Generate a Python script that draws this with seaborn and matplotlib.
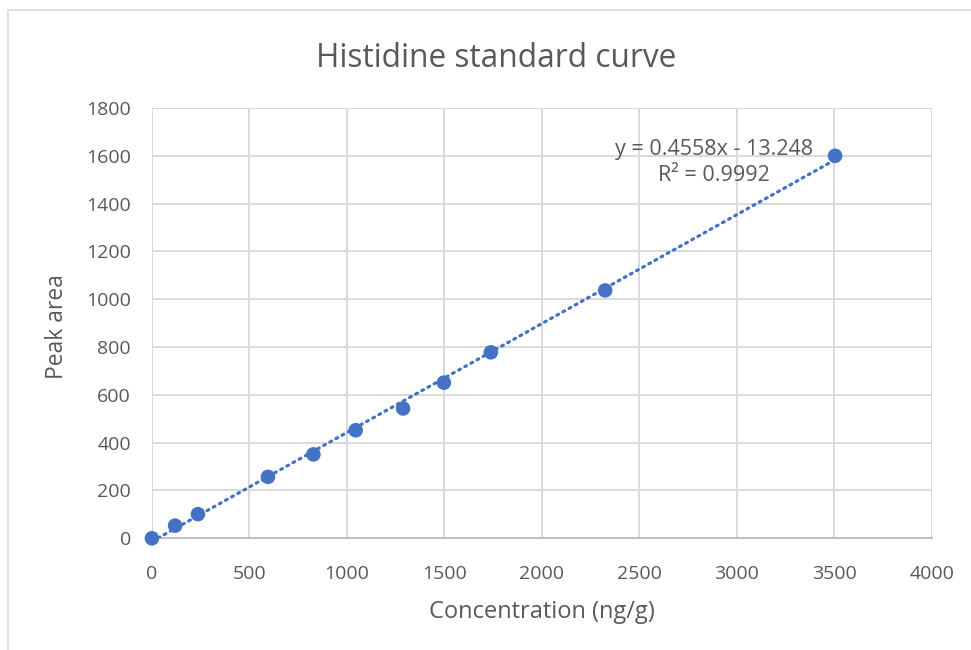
import numpy as np
import pandas as pd
import matplotlib
matplotlib.use("Agg")
import matplotlib.pyplot as plt
import seaborn as sns
from matplotlib.patches import Rectangle

# Standard concentrations (ng/g) and measured peak areas
concentration = [0, 119, 236, 595, 828, 1045, 1288, 1497, 1738, 2324, 3503]
peak_area = [0, 53, 101, 257, 351, 452, 543, 651, 778, 1037, 1600]

# Linear trendline coefficients
slope = 0.4558
intercept = -13.248
r_squared = 0.9992

x_ticks = [0, 500, 1000, 1500, 2000, 2500, 3000, 3500, 4000]
y_ticks = [0, 200, 400, 600, 800, 1000, 1200, 1400, 1600, 1800]

BLUE = "#4472C4"
TEXT = "#595959"
GRID = "#D9D9D9"
FONT = ["Open Sans", "DejaVu Sans"]

sns.set_theme(style="white")
plt.rcParams["font.family"] = FONT

df = pd.DataFrame({"Concentration": concentration, "Peak area": peak_area})
xs = np.array([min(concentration), max(concentration)])
trend = pd.DataFrame({"x": xs, "y": slope * xs + intercept})

W, H = 971, 650
fig = plt.figure(figsize=(W / 100, H / 100), dpi=100)
fig.patches.append(Rectangle((8 / W, -0.1), 1.2, 1 - 10 / H + 0.1,
                             transform=fig.transFigure, fill=False,
                             edgecolor="#D9D9D9", linewidth=1.2))

ax = fig.add_axes([151.9 / W, 1 - 538.3 / H, (932 - 151.9) / W, (538.3 - 108) / H])

sns.lineplot(data=trend, x="x", y="y", ax=ax, color=BLUE, linewidth=2.3,
             linestyle=(0, (0.6, 1.6)), dash_capstyle="round", zorder=3)
sns.scatterplot(data=df, x="Concentration", y="Peak area", ax=ax, color=BLUE,
                s=110, edgecolor="none", zorder=4, clip_on=False)

ax.set_xlim(0, 4000)
ax.set_ylim(0, 1800)
ax.set_xticks(x_ticks)
ax.set_yticks(y_ticks)
ax.grid(True, color=GRID, linewidth=1.4)
ax.set_axisbelow(True)
for side in ["top", "right", "left"]:
    ax.spines[side].set_visible(False)
ax.spines["bottom"].set_color("#BFBFBF")
ax.spines["bottom"].set_linewidth(1.4)
ax.tick_params(axis="both", length=0, labelsize=14, labelcolor=TEXT)
ax.tick_params(axis="x", pad=19)
ax.tick_params(axis="y", pad=15)

ax.set_xlabel("")
ax.set_ylabel("")
fig.text(542 / W, 1 - 618 / H, "Concentration (ng/g)", ha="center",
         va="baseline", fontsize=17, color=TEXT)
fig.text(57 / W, 1 - 326.5 / H, "Peak area", ha="center", va="center",
         rotation=90, fontsize=16.5, color=TEXT)

fig.text(496.5 / W, 1 - 66.7 / H, "Histidine standard curve", ha="center",
         va="baseline", fontsize=22.8, color=TEXT)

ax.text(2880, 1572, f"y = {slope}x - {abs(intercept)}\nR² = {r_squared}",
        ha="center", va="center", fontsize=15.5, color=TEXT, linespacing=1.35)

fig.savefig("out.png", dpi=100, facecolor="white")
